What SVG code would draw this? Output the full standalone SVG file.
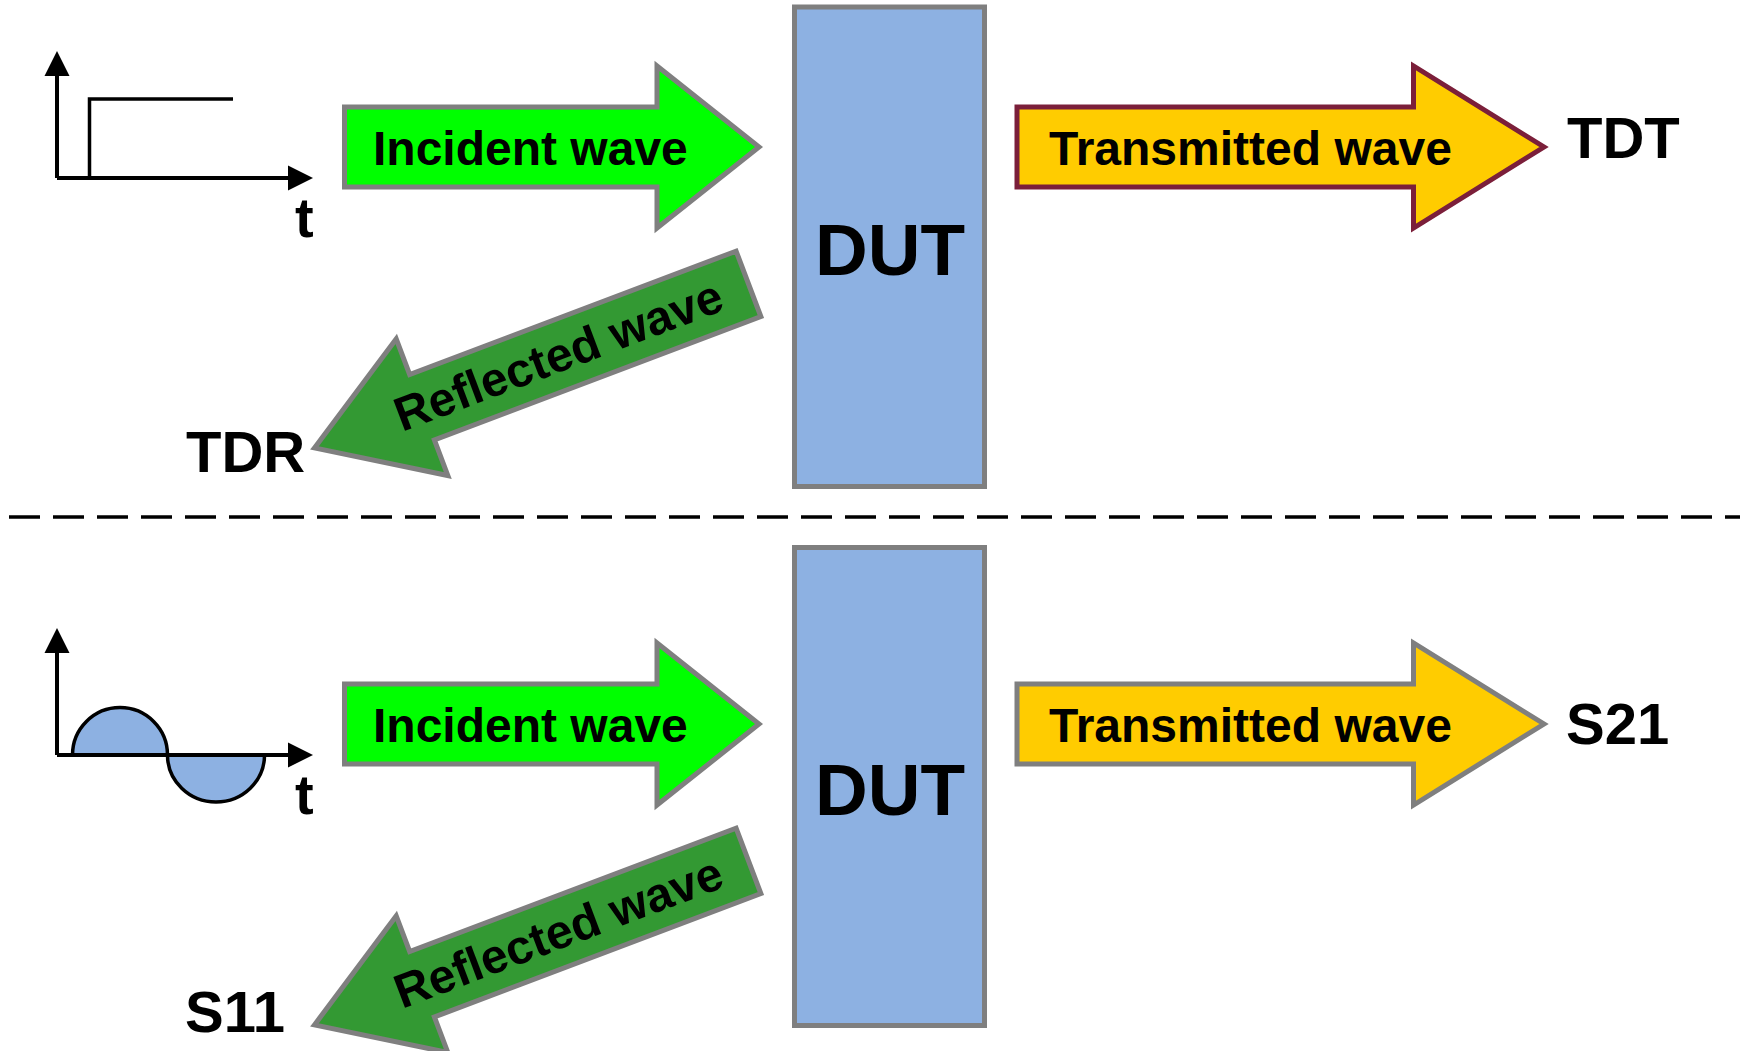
<svg xmlns="http://www.w3.org/2000/svg" width="1740" height="1051" viewBox="0 0 1740 1051">
<style>
text{font-family:"Liberation Sans",Arial,sans-serif;font-weight:bold;fill:#000}
.lbl{font-size:58px}
.aw{font-size:48px}
.dut{fill:#8DB1E2;stroke:#7F7F7F;stroke-width:5}
.dutt{font-size:73px;text-anchor:middle}
.inc{fill:#00FF00;stroke:#7F7F7F;stroke-width:5;stroke-linejoin:miter}
.ref{fill:#339933;stroke:#7F7F7F;stroke-width:5;stroke-linejoin:miter}
.trm{fill:#FFCC00;stroke-width:5;stroke-linejoin:miter}
.ax{fill:none;stroke:#000;stroke-width:4}
.sig{fill:none;stroke:#000;stroke-width:3.5}
.hump{fill:#8DB1E2;stroke:#000;stroke-width:3.5}
.tl{font-size:56px}
</style>
<rect width="1740" height="1051" fill="#fff"/>

<!-- separator -->
<line x1="9" y1="517" x2="1740" y2="517" stroke="#000" stroke-width="3.5" stroke-dasharray="31 13"/>

<!-- TOP SECTION -->
<g id="plot-step">
  <path class="ax" d="M57,178 V70 M57,178 H292"/>
  <polygon points="57,51 44.5,76 69.5,76"/>
  <polygon points="313,178 288,165.5 288,190.5"/>
  <path class="sig" d="M89.5,178 V99 H233"/>
  <text class="tl" x="295" y="237">t</text>
</g>
<g id="dut-top">
  <rect class="dut" x="794.5" y="7" width="190" height="479.5"/>
  <text class="dutt" x="890" y="275">DUT</text>
</g>
<g id="label-tdt"><text class="lbl" x="1567" y="158">TDT</text></g>
<g id="label-tdr"><text class="lbl" x="186" y="472">TDR</text></g>

<!-- BOTTOM SECTION -->
<g id="plot-sine">
  <path class="hump" d="M72.5,755 A47.5,47.5 0 0 1 167.5,755 Z"/>
  <path class="hump" d="M167.5,755 A48.5,47 0 0 0 264.5,755 Z"/>
  <path class="ax" d="M57,755 V647 M57,755 H292"/>
  <polygon points="57,628 44.5,653 69.5,653"/>
  <polygon points="313,755 288,742.5 288,767.5"/>
  <text class="tl" x="295" y="814">t</text>
</g>
<g id="dut-bottom">
  <rect class="dut" x="794.5" y="547.5" width="190" height="478"/>
  <text class="dutt" x="890" y="815">DUT</text>
</g>
<g id="label-s21"><text class="lbl" x="1566" y="744">S21</text></g>
<g id="label-s11"><text class="lbl" x="185" y="1032">S11</text></g>

<!-- CONNECTORS (block arrows) -->
<g id="connectors">
  <g id="incident-top">
    <polygon class="inc" points="344.5,107 657,107 657,66 759,147 657,228 657,187 344.5,187"/>
    <text class="aw" x="373" y="165">Incident wave</text>
  </g>
  <g id="transmitted-top">
    <polygon class="trm" stroke="#7B1F3A" points="1017,107 1413.5,107 1413.5,66 1544,147 1413.5,228 1413.5,187 1017,187"/>
    <text class="aw" x="1049" y="165">Transmitted wave</text>
  </g>
  <g id="reflected-top" transform="translate(310.7,449.3) rotate(-20.7)">
    <polygon class="ref" points="4,0 119,-73 119,-35 468,-35 468,35 119,35 119,73"/>
    <text class="aw" x="265" y="16" text-anchor="middle">Reflected wave</text>
  </g>
  <g id="incident-bottom">
    <polygon class="inc" points="344.5,684 657,684 657,643 759,724 657,805 657,764 344.5,764"/>
    <text class="aw" x="373" y="742">Incident wave</text>
  </g>
  <g id="transmitted-bottom">
    <polygon class="trm" stroke="#7F7F7F" points="1017,684 1413.5,684 1413.5,643 1544,724 1413.5,805 1413.5,764 1017,764"/>
    <text class="aw" x="1049" y="742">Transmitted wave</text>
  </g>
  <g id="reflected-bottom" transform="translate(310.7,1026.3) rotate(-20.7)">
    <polygon class="ref" points="4,0 119,-73 119,-35 468,-35 468,35 119,35 119,73"/>
    <text class="aw" x="265" y="16" text-anchor="middle">Reflected wave</text>
  </g>
</g>
</svg>
